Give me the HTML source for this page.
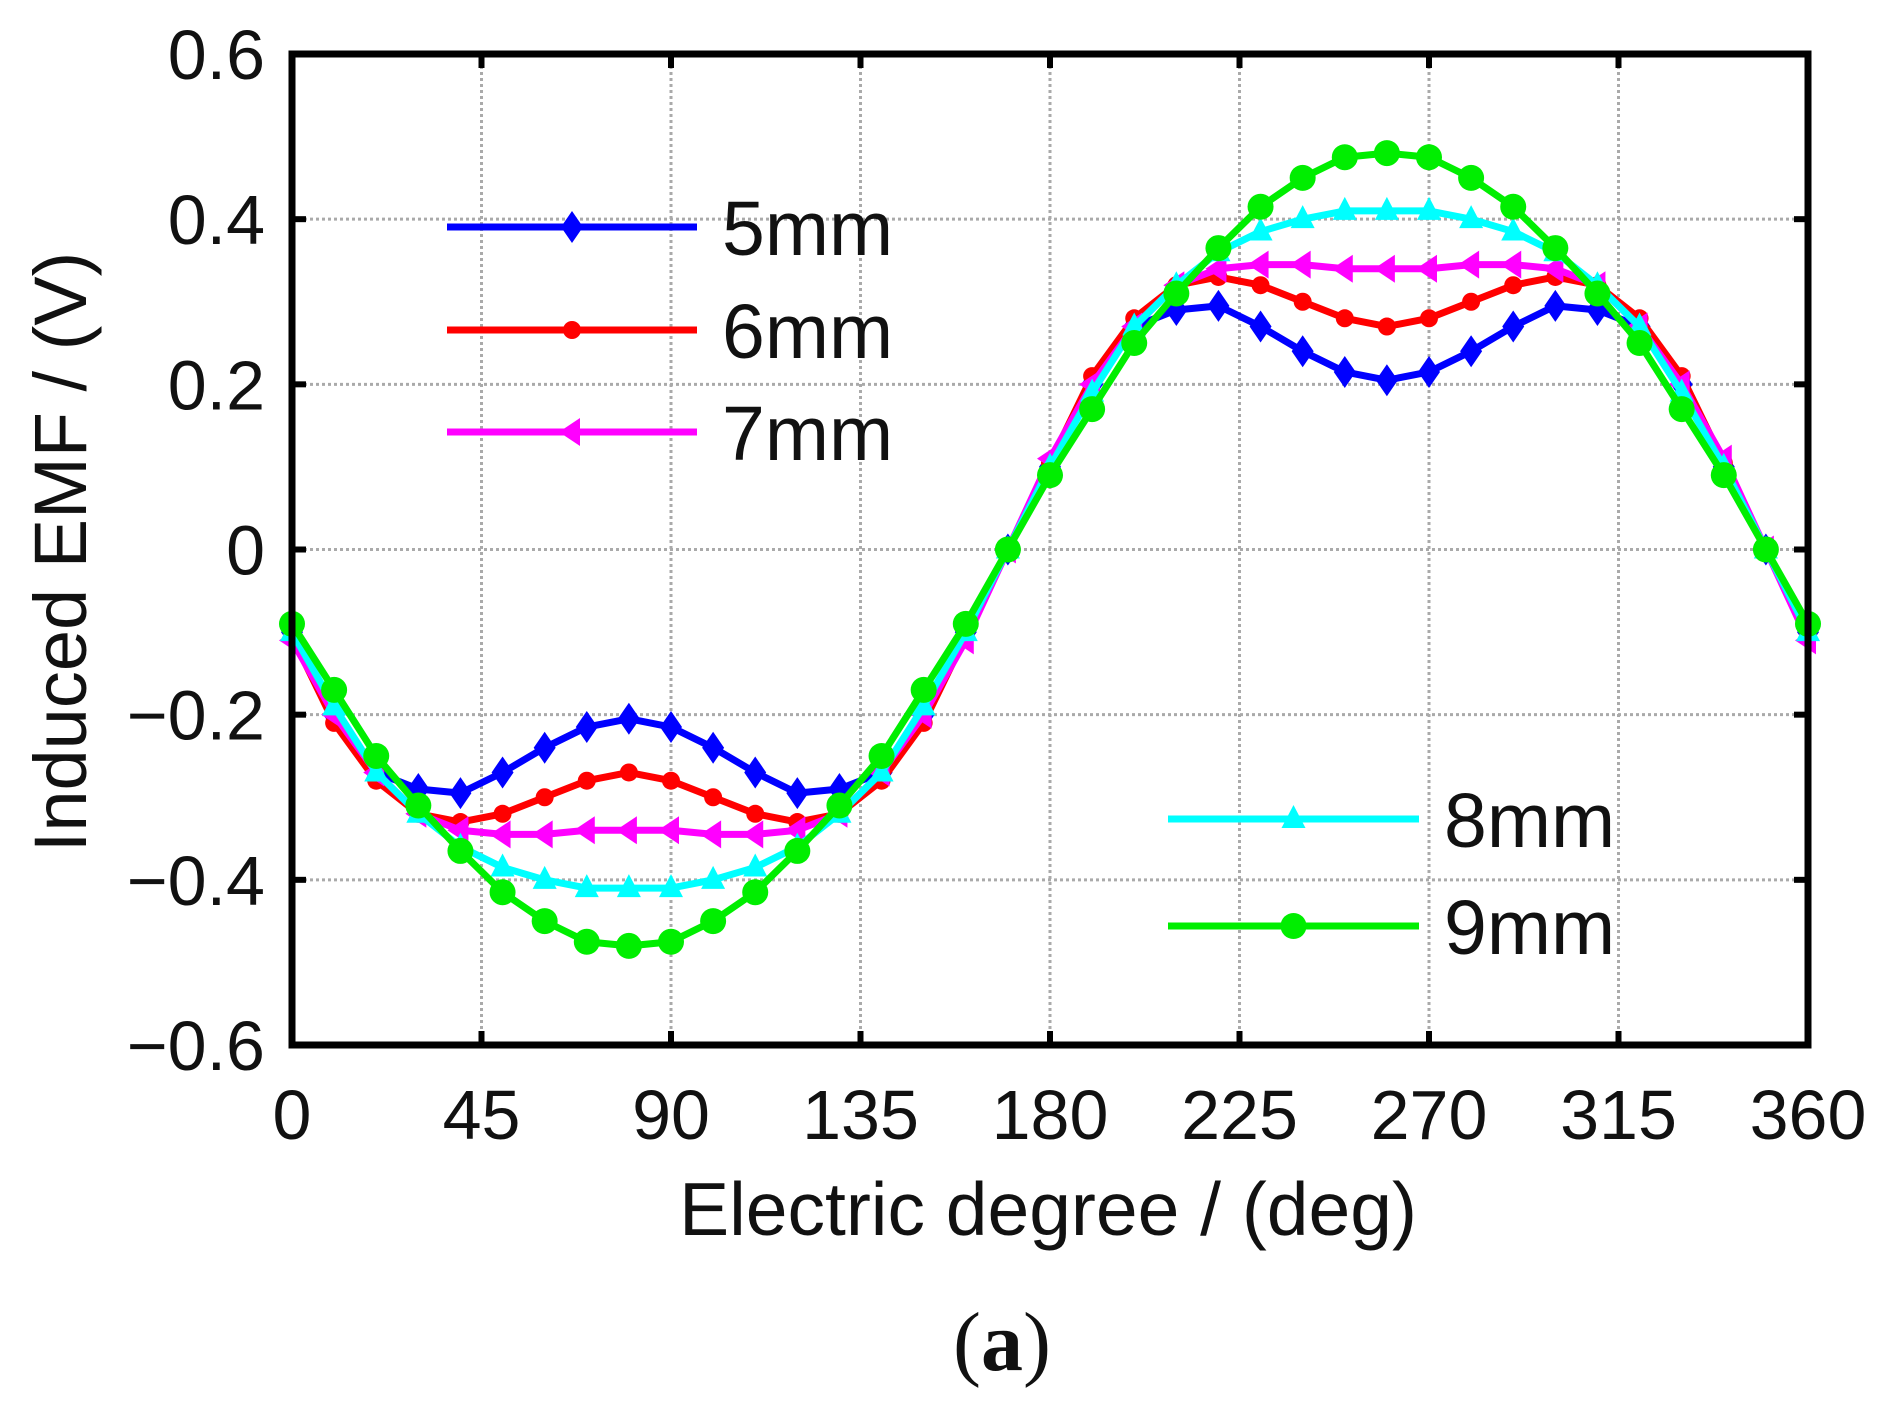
<!DOCTYPE html>
<html><head><meta charset="utf-8"><style>
html,body{margin:0;padding:0;background:#fff;}
svg{display:block;font-family:"Liberation Sans",Arial,sans-serif;}
</style></head><body>
<svg id="chart" width="1884" height="1404" viewBox="0 0 1884 1404">
<g id="grid"></g>
<g id="series"></g>
<g id="axes"></g>
<g id="legend"></g>
<text x="0" y="0" transform="translate(86,552) rotate(-90)" text-anchor="middle" font-size="74" fill="#111">Induced EMF / (V)</text>
<text x="1048" y="1235" text-anchor="middle" font-size="75" fill="#111">Electric degree / (deg)</text>
<text x="1002" y="1370" text-anchor="middle" font-size="84" font-family="Liberation Serif,serif" fill="#111">(<tspan font-weight="bold">a</tspan>)</text>
</svg>
<script>
const xTicks=[0,45,90,135,180,225,270,315,360];
const yTicks=[0.6,0.4,0.2,0,-0.2,-0.4,-0.6];
const yTickLabels=["0.6","0.4","0.2","0","\u22120.2","\u22120.4","\u22120.6"];
const degrees=[0,10,20,30,40,50,60,70,80,90,100,110,120,130,140,150,160,170,180,190,200,210,220,230,240,250,260,270,280,290,300,310,320,330,340,350,360];
const s5=[-0.1,-0.2,-0.27,-0.29,-0.295,-0.27,-0.24,-0.215,-0.205,-0.215,-0.24,-0.27,-0.295,-0.29,-0.27,-0.2,-0.1,0,0.1,0.2,0.27,0.29,0.295,0.27,0.24,0.215,0.205,0.215,0.24,0.27,0.295,0.29,0.27,0.2,0.1,0,-0.1];
const s6=[-0.105,-0.21,-0.28,-0.32,-0.33,-0.32,-0.3,-0.28,-0.27,-0.28,-0.3,-0.32,-0.33,-0.32,-0.28,-0.21,-0.105,0,0.105,0.21,0.28,0.32,0.33,0.32,0.3,0.28,0.27,0.28,0.3,0.32,0.33,0.32,0.28,0.21,0.105,0,-0.105];
const s7=[-0.11,-0.2,-0.27,-0.32,-0.34,-0.345,-0.345,-0.34,-0.34,-0.34,-0.345,-0.345,-0.34,-0.32,-0.27,-0.2,-0.11,0,0.11,0.2,0.27,0.32,0.34,0.345,0.345,0.34,0.34,0.34,0.345,0.345,0.34,0.32,0.27,0.2,0.11,0,-0.11];
const s8=[-0.1,-0.19,-0.27,-0.32,-0.36,-0.385,-0.4,-0.41,-0.41,-0.41,-0.4,-0.385,-0.36,-0.32,-0.27,-0.19,-0.1,0,0.1,0.19,0.27,0.32,0.36,0.385,0.4,0.41,0.41,0.41,0.4,0.385,0.36,0.32,0.27,0.19,0.1,0,-0.1];
const s9=[-0.09,-0.17,-0.25,-0.31,-0.365,-0.415,-0.45,-0.475,-0.48,-0.475,-0.45,-0.415,-0.365,-0.31,-0.25,-0.17,-0.09,0,0.09,0.17,0.25,0.31,0.365,0.415,0.45,0.475,0.48,0.475,0.45,0.415,0.365,0.31,0.25,0.17,0.09,0,-0.09];
const seriesNames=["5mm","6mm","7mm","8mm","9mm"];

const NS="http://www.w3.org/2000/svg";
const L=292,R=1808,T=54,B=1045;
const xs=v=>L+(v/360)*(R-L);
const ys=v=>T+(0.6-v)/1.2*(B-T);
function mk(tag,attrs,parent){const e=document.createElementNS(NS,tag);for(const k in attrs)e.setAttribute(k,attrs[k]);parent.appendChild(e);return e;}
const grid=document.getElementById('grid'),axes=document.getElementById('axes'),ser=document.getElementById('series'),leg=document.getElementById('legend');

xTicks.forEach(t=>{
 if(t>0&&t<360){const g=mk('line',{x1:xs(t),x2:xs(t),y1:T,y2:B,stroke:'#aaa','stroke-width':3,'stroke-dasharray':'3 3'},grid);
 
 
 [[B,B-14],[T,T+14]].forEach(p=>{const k=mk('line',{x1:xs(t),x2:xs(t),y1:p[0],y2:p[1],stroke:'#000','stroke-width':6},axes);
 
 });}
 const lb=mk('text',{x:xs(t),y:1139,'text-anchor':'middle','font-size':70,fill:'#111'},axes);lb.textContent=t;
 
 
});
yTicks.forEach((t,i)=>{
 if(t<0.6&&t>-0.6){const g=mk('line',{x1:L,x2:R,y1:ys(t),y2:ys(t),stroke:'#aaa','stroke-width':3,'stroke-dasharray':'3 3'},grid);
 
 
 [[L,L+14],[R,R-14]].forEach(p=>{const k=mk('line',{x1:p[0],x2:p[1],y1:ys(t),y2:ys(t),stroke:'#000','stroke-width':6},axes);
 
 });}
 const lb=mk('text',{x:265,y:ys(t)+25,'text-anchor':'end','font-size':70,fill:'#111'},axes);lb.textContent=yTickLabels[i];
 
 
});
const frame=mk('rect',{x:L,y:T,width:R-L,height:B-T,fill:'none',stroke:'#000','stroke-width':7},axes);



function marker(type,x,y,color,parent){
 let e;
 if(type==='diamond')e=mk('polygon',{points:`${x},${y-16} ${x+11},${y} ${x},${y+16} ${x-11},${y}`,fill:color},parent);
 else if(type==='dot')e=mk('circle',{cx:x,cy:y,r:9,fill:color},parent);
 else if(type==='ltri')e=mk('polygon',{points:`${x-13},${y} ${x+8},${y-14} ${x+8},${y+14}`,fill:color},parent);
 else if(type==='utri')e=mk('polygon',{points:`${x},${y-14} ${x+12},${y+9} ${x-12},${y+9}`,fill:color},parent);
 else e=mk('circle',{cx:x,cy:y,r:13,fill:color},parent);
 
 
}
const all=[s5,s6,s7,s8,s9];
const colors=['#0000ff','#ff0000','#ff00ff','#00ffff','#00ee00'];
const mtypes=['diamond','dot','ltri','utri','circle'];
all.forEach((s,i)=>{
 const g=mk('g',{},ser);
 
 
 const pl=mk('polyline',{points:degrees.map((d,j)=>xs(d)+','+ys(s[j])).join(' '),fill:'none',stroke:colors[i],'stroke-width':7,'stroke-linejoin':'round'},g);
 
 
 degrees.forEach((d,j)=>marker(mtypes[i],xs(d),ys(s[j]),colors[i],g));
});
const legPos=[[447,697,227],[447,697,330],[447,697,432],[1168,1419,819],[1168,1419,926]];
legPos.forEach((p,i)=>{
 const g=mk('g',{},leg);
 
 
 mk('line',{x1:p[0],x2:p[1],y1:p[2],y2:p[2],stroke:colors[i],'stroke-width':7},g);
 marker(mtypes[i],(p[0]+p[1])/2,p[2],colors[i],g);
 const t=mk('text',{x:p[1]+25,y:p[2]+28,'font-size':77,fill:'#111'},g);t.textContent=seriesNames[i];
});
</script>
</body></html>
